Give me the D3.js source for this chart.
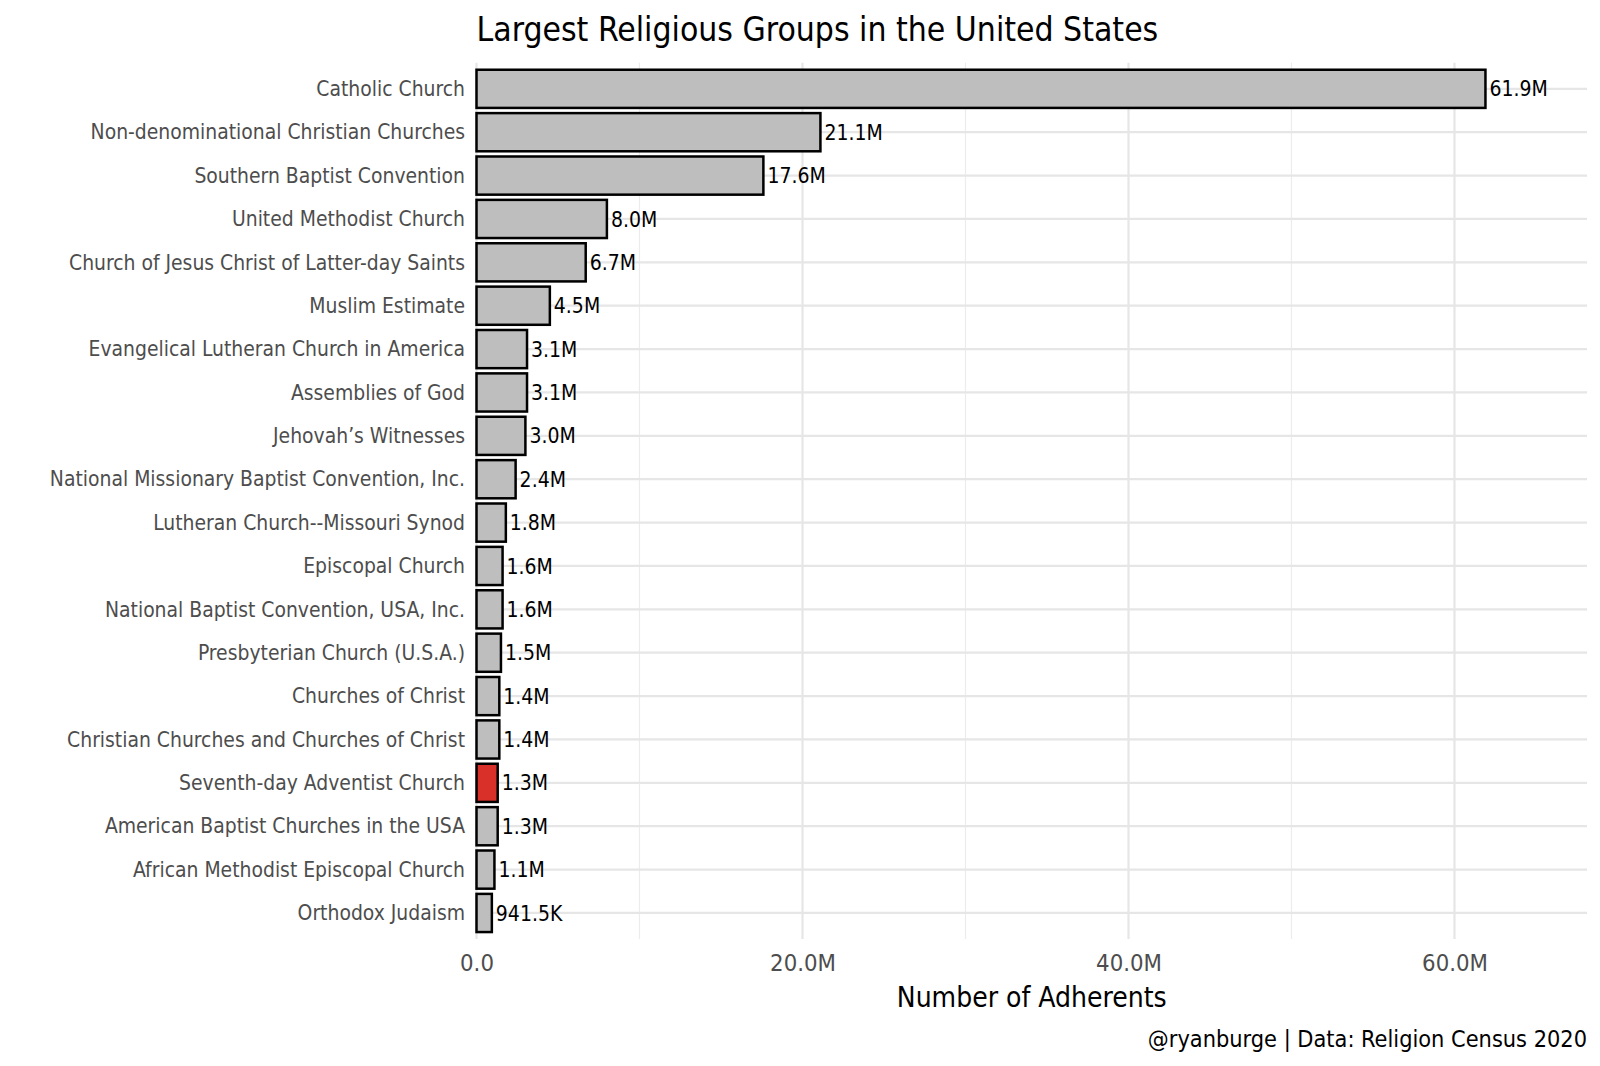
<!DOCTYPE html>
<html>
<head>
<meta charset="utf-8">
<script src="https://cdn.jsdelivr.net/npm/d3@7"></script>
<style>
  html, body { margin: 0; padding: 0; background: #fff; overflow: hidden; }
  svg { display: block; }
  text { font-family: "DejaVu Sans Condensed", "Liberation Sans Narrow", sans-serif; }
</style>
</head>
<body>
<div class="canvas"></div>
<script>
// data (millions of adherents)
const groups = [
  'Catholic Church', 'Non-denominational Christian Churches', 'Southern Baptist Convention',
  'United Methodist Church', 'Church of Jesus Christ of Latter-day Saints', 'Muslim Estimate',
  'Evangelical Lutheran Church in America', 'Assemblies of God', 'Jehovah\u2019s Witnesses',
  'National Missionary Baptist Convention, Inc.', 'Lutheran Church--Missouri Synod',
  'Episcopal Church', 'National Baptist Convention, USA, Inc.', 'Presbyterian Church (U.S.A.)',
  'Churches of Christ', 'Christian Churches and Churches of Christ', 'Seventh-day Adventist Church',
  'American Baptist Churches in the USA', 'African Methodist Episcopal Church', 'Orthodox Judaism'
];
const adherents = [61.9, 21.1, 17.6, 8.0, 6.7, 4.5, 3.1, 3.1, 3.0, 2.4, 1.8, 1.6, 1.6, 1.5, 1.4, 1.4, 1.3, 1.3, 1.1, 0.9415];
const valueLabels = ['61.9M', '21.1M', '17.6M', '8.0M', '6.7M', '4.5M', '3.1M', '3.1M', '3.0M', '2.4M',
  '1.8M', '1.6M', '1.6M', '1.5M', '1.4M', '1.4M', '1.3M', '1.3M', '1.1M', '941.5K'];
const highlight = 'Seventh-day Adventist Church';
const xTicks = [0, 20, 40, 60];
const xTickLabels = ['0.0', '20.0M', '40.0M', '60.0M'];
const xMinor = [10, 30, 50];

const data = groups.map((g, i) => ({ name: g, value: adherents[i], label: valueLabels[i] }));

const width = 1600, height = 1066;
const svg = d3.select('.canvas')
  .append('svg')
  .attr('width', width)
  .attr('height', height);

// panel
const margin = { top: 62.8, right: 13, bottom: 127, left: 476.5 };
const graphWidth = width - margin.left - margin.right;
const graphHeight = height - margin.top - margin.bottom;

const graph = svg.append('g')
  .attr('transform', `translate(${margin.left}, ${margin.top})`);

const x = d3.scaleLinear()
  .domain([0, 68.13])
  .range([0, graphWidth]);

// ggplot-like discrete expansion: 0.6 of a step at each end
const step = graphHeight / (groups.length - 1 + 1.2);
const y = d3.scalePoint()
  .domain(groups)
  .range([0.6 * step, graphHeight - 0.6 * step]);
const barH = step * 0.88;

// grid
const grid = graph.append('g');
grid.selectAll('.minor')
  .data(xMinor)
  .enter().append('line')
  .attr('x1', d => x(d)).attr('x2', d => x(d))
  .attr('y1', 0).attr('y2', graphHeight)
  .attr('stroke', '#ececec').attr('stroke-width', 1.2);
grid.selectAll('.major')
  .data(xTicks)
  .enter().append('line')
  .attr('x1', d => x(d)).attr('x2', d => x(d))
  .attr('y1', 0).attr('y2', graphHeight)
  .attr('stroke', '#e6e6e6').attr('stroke-width', 2.2);
grid.selectAll('.hline')
  .data(groups)
  .enter().append('line')
  .attr('x1', 0).attr('x2', graphWidth)
  .attr('y1', d => y(d)).attr('y2', d => y(d))
  .attr('stroke', '#e6e6e6').attr('stroke-width', 2.2);

// bars
graph.selectAll('rect')
  .data(data)
  .enter().append('rect')
  .attr('x', x(0))
  .attr('y', d => y(d.name) - barH / 2)
  .attr('width', d => x(d.value) - x(0))
  .attr('height', barH)
  .attr('fill', d => d.name === highlight ? '#d9302a' : '#bebebe')
  .attr('stroke', '#000')
  .attr('stroke-width', 2.5);

// value labels
graph.selectAll('.val')
  .data(data)
  .enter().append('text')
  .attr('x', d => x(d.value) + 4)
  .attr('y', d => y(d.name))
  .attr('dy', '0.36em')
  .attr('font-size', 21)
  .attr('fill', '#000')
  .text(d => d.label);

// y axis
const yAxis = d3.axisLeft(y).tickSize(0).tickPadding(11.5);
const yAxisGroup = graph.append('g').call(yAxis);
yAxisGroup.select('.domain').remove();
yAxisGroup.selectAll('text')
  .attr('font-size', 20.9)
  .attr('fill', '#4d4d4d')
  .attr('font-family', null);

// x axis
const xAxis = d3.axisBottom(x)
  .tickValues(xTicks)
  .tickSize(0)
  .tickPadding(15)
  .tickFormat((d, i) => xTickLabels[i]);
const xAxisGroup = graph.append('g')
  .attr('transform', `translate(0, ${graphHeight})`)
  .call(xAxis);
xAxisGroup.select('.domain').remove();
xAxisGroup.selectAll('text')
  .attr('font-size', 23.7)
  .attr('fill', '#4d4d4d')
  .attr('font-family', null);

// titles
svg.append('text')
  .attr('x', margin.left)
  .attr('y', 41)
  .attr('font-size', 33.4)
  .attr('fill', '#000')
  .text('Largest Religious Groups in the United States');

svg.append('text')
  .attr('x', margin.left + graphWidth / 2)
  .attr('y', 1007)
  .attr('text-anchor', 'middle')
  .attr('font-size', 28)
  .attr('fill', '#000')
  .text('Number of Adherents');

svg.append('text')
  .attr('x', margin.left + graphWidth)
  .attr('y', 1047)
  .attr('text-anchor', 'end')
  .attr('font-size', 23.3)
  .attr('fill', '#000')
  .text('@ryanburge | Data: Religion Census 2020');
</script>
</body>
</html>
